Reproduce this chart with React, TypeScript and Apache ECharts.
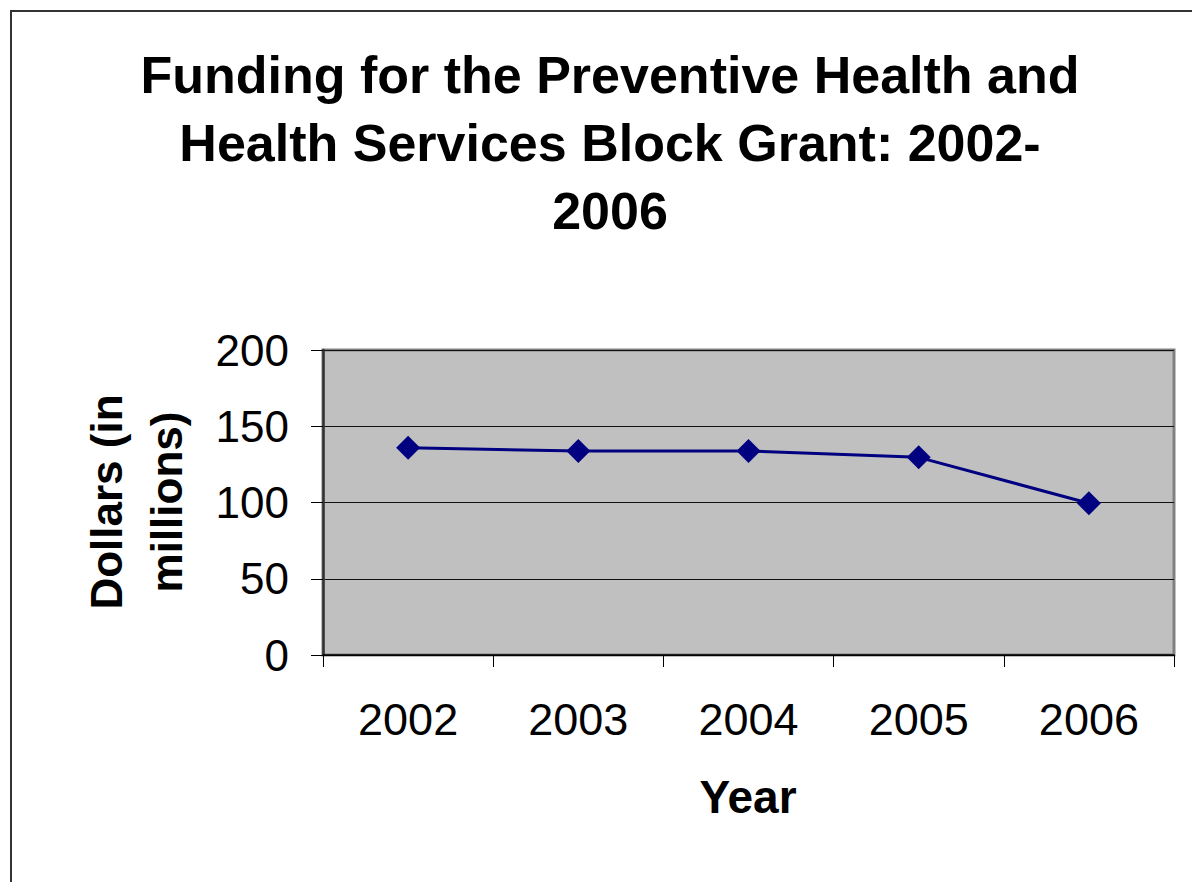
import React, { useEffect, useRef } from "react";
import * as echarts from "echarts";

const years = ["2002", "2003", "2004", "2005", "2006"];
const funding = [135.9, 133.8, 133.8, 129.6, 99.5];
const titleLines = ["Funding for the Preventive Health and", "Health Services Block Grant: 2002-", "2006"];
const yAxisTitle = ["Dollars (in", "millions)"];
const xAxisTitle = "Year";

export default function App() {
  const ref = useRef<HTMLDivElement>(null);
  useEffect(() => {
    if (!ref.current) return;
    const chart = echarts.init(ref.current, undefined, { renderer: "svg" });
    const font = "'Liberation Sans', Arial, sans-serif";
    chart.setOption({
      animation: false,
      backgroundColor: "#ffffff",
      grid: {
        left: 323,
        top: 350,
        right: 18,
        bottom: 227,
        show: true,
        backgroundColor: "#c0c0c0",
        borderColor: "#808080",
        borderWidth: 3,
      },
      xAxis: {
        type: "category",
        data: years,
        boundaryGap: true,
        axisLine: { show: true, lineStyle: { color: "#000", width: 1.5 } },
        axisTick: { show: true, length: 12, interval: 0, lineStyle: { color: "#000" } },
        axisLabel: { fontFamily: font, fontSize: 45, color: "#000", margin: 42 },
        splitLine: { show: false },
      },
      yAxis: {
        type: "value",
        min: 0,
        max: 200,
        interval: 50,
        axisLine: { show: true, lineStyle: { color: "#333", width: 2.5 } },
        axisTick: { show: true, length: 12, lineStyle: { color: "#000" } },
        axisLabel: { fontFamily: font, fontSize: 44, color: "#000", margin: 34 },
        splitLine: { show: true, lineStyle: { color: "#111", width: 1 } },
      },
      series: [
        {
          type: "line",
          data: funding,
          symbol: "diamond",
          symbolSize: 24,
          lineStyle: { color: "#000080", width: 3 },
          itemStyle: { color: "#000080" },
        },
      ],
      graphic: [
        {
          type: "rect",
          shape: { x: 11, y: 11, width: 1400, height: 1000 },
          style: { fill: "none", stroke: "#333", lineWidth: 2 },
          z: -10,
          silent: true,
        },
        {
          type: "text",
          x: 610,
          y: 143,
          style: {
            text: titleLines.join("\n"),
            fontFamily: font,
            fontWeight: "bold",
            fontSize: 52,
            lineHeight: 68,
            fill: "#000",
            align: "center",
            verticalAlign: "middle",
          },
        },
        {
          type: "text",
          x: 136,
          y: 502,
          rotation: Math.PI / 2,
          style: {
            text: yAxisTitle.join("\n"),
            fontFamily: font,
            fontWeight: "bold",
            fontSize: 44,
            lineHeight: 60,
            fill: "#000",
            align: "center",
            verticalAlign: "middle",
          },
        },
        {
          type: "text",
          x: 748,
          y: 797,
          style: {
            text: xAxisTitle,
            fontFamily: font,
            fontWeight: "bold",
            fontSize: 46,
            fill: "#000",
            align: "center",
            verticalAlign: "middle",
          },
        },
      ],
    });
    return () => chart.dispose();
  }, []);
  return (
    <div
      ref={ref}
      style={{ position: "fixed", left: 0, top: 0, width: 1192, height: 882 }}
    />
  );
}
